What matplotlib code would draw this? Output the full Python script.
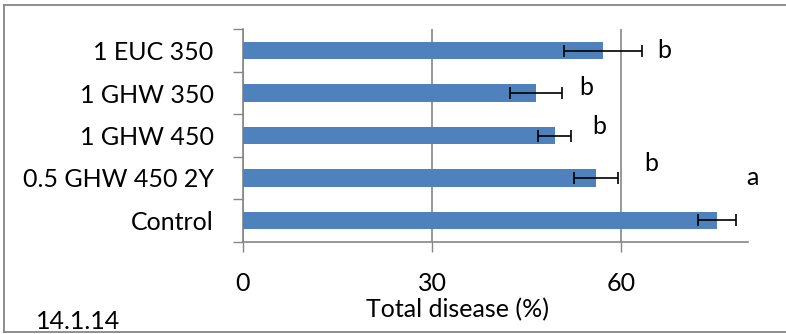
import matplotlib
matplotlib.use("Agg")
import matplotlib.pyplot as plt
from matplotlib.lines import Line2D
import numpy as np

categories = ["Control", "0.5 GHW 450 2Y", "1 GHW 450", "1 GHW 350", "1 EUC 350"]
values = [75.2, 56.0, 49.4, 46.4, 57.1]
errors = [3.0, 3.5, 2.6, 4.1, 6.2]
letters = ["a", "b", "b", "b", "b"]
letter_x = [80.8, 64.7, 56.5, 54.4, 66.7]
letter_y = [1.02, 1.35, 2.22, 3.12, 4.01]
xticks = [0, 30, 60]

plt.rcParams['font.family'] = ['Lato', 'DejaVu Sans']
FS = 18
GRAY = "#868686"

fig = plt.figure(figsize=(7.86, 3.34), dpi=100)
ax = fig.add_axes([0.3088, 0.2763, 0.6425, 0.636])

y = np.arange(len(categories))
ax.barh(y, values, height=0.41, color="#4F81BD", zorder=3)
ax.errorbar(values, y, xerr=errors, fmt='none', ecolor='black',
            elinewidth=1.2, capsize=4, capthick=1.2, zorder=4)

for lx, ly, t in zip(letter_x, letter_y, letters):
    ax.text(lx, ly, t, ha='center', va='center', fontsize=FS, clip_on=False)

ax.set_xlim(0, 80)
ax.set_ylim(-0.5, len(categories) - 0.5)
ax.set_xticks(xticks)
ax.set_xticklabels([str(v) for v in xticks], fontsize=FS)
ax.set_yticks(y)
ax.set_yticklabels(categories, fontsize=FS)
ax.set_yticks(np.arange(-0.5, len(categories)), minor=True)
ax.tick_params(axis='y', which='major', length=0, pad=21)
ax.tick_params(axis='y', which='minor', length=7, width=1, color=GRAY, direction='out')
ax.tick_params(axis='x', which='major', length=7, width=1, color=GRAY, direction='out', pad=15)

ax.grid(axis='x', color=GRAY, linewidth=1.2, zorder=0)
for s in ['top', 'right']:
    ax.spines[s].set_visible(False)
for s in ['left', 'bottom']:
    ax.spines[s].set_color(GRAY)
    ax.spines[s].set_linewidth(1.2)

ax.set_xlabel("Total disease (%)", fontsize=FS)
ax.xaxis.set_label_coords(0.425, -0.265)
ax.xaxis.label.set_va('top')

fig.text(36 / 786, 0.015, "14.1.14", fontsize=FS, ha='left', va='baseline')

# outer border
fig.add_artist(Line2D([0.0051, 1.0], [0.985, 0.985], transform=fig.transFigure, color=GRAY, lw=1.3))
fig.add_artist(Line2D([0.0051, 0.0051], [0.006, 0.985], transform=fig.transFigure, color=GRAY, lw=1.3))
fig.add_artist(Line2D([0.0051, 1.0], [0.006, 0.006], transform=fig.transFigure, color=GRAY, lw=1.3))

fig.savefig("out.png", dpi=100)
